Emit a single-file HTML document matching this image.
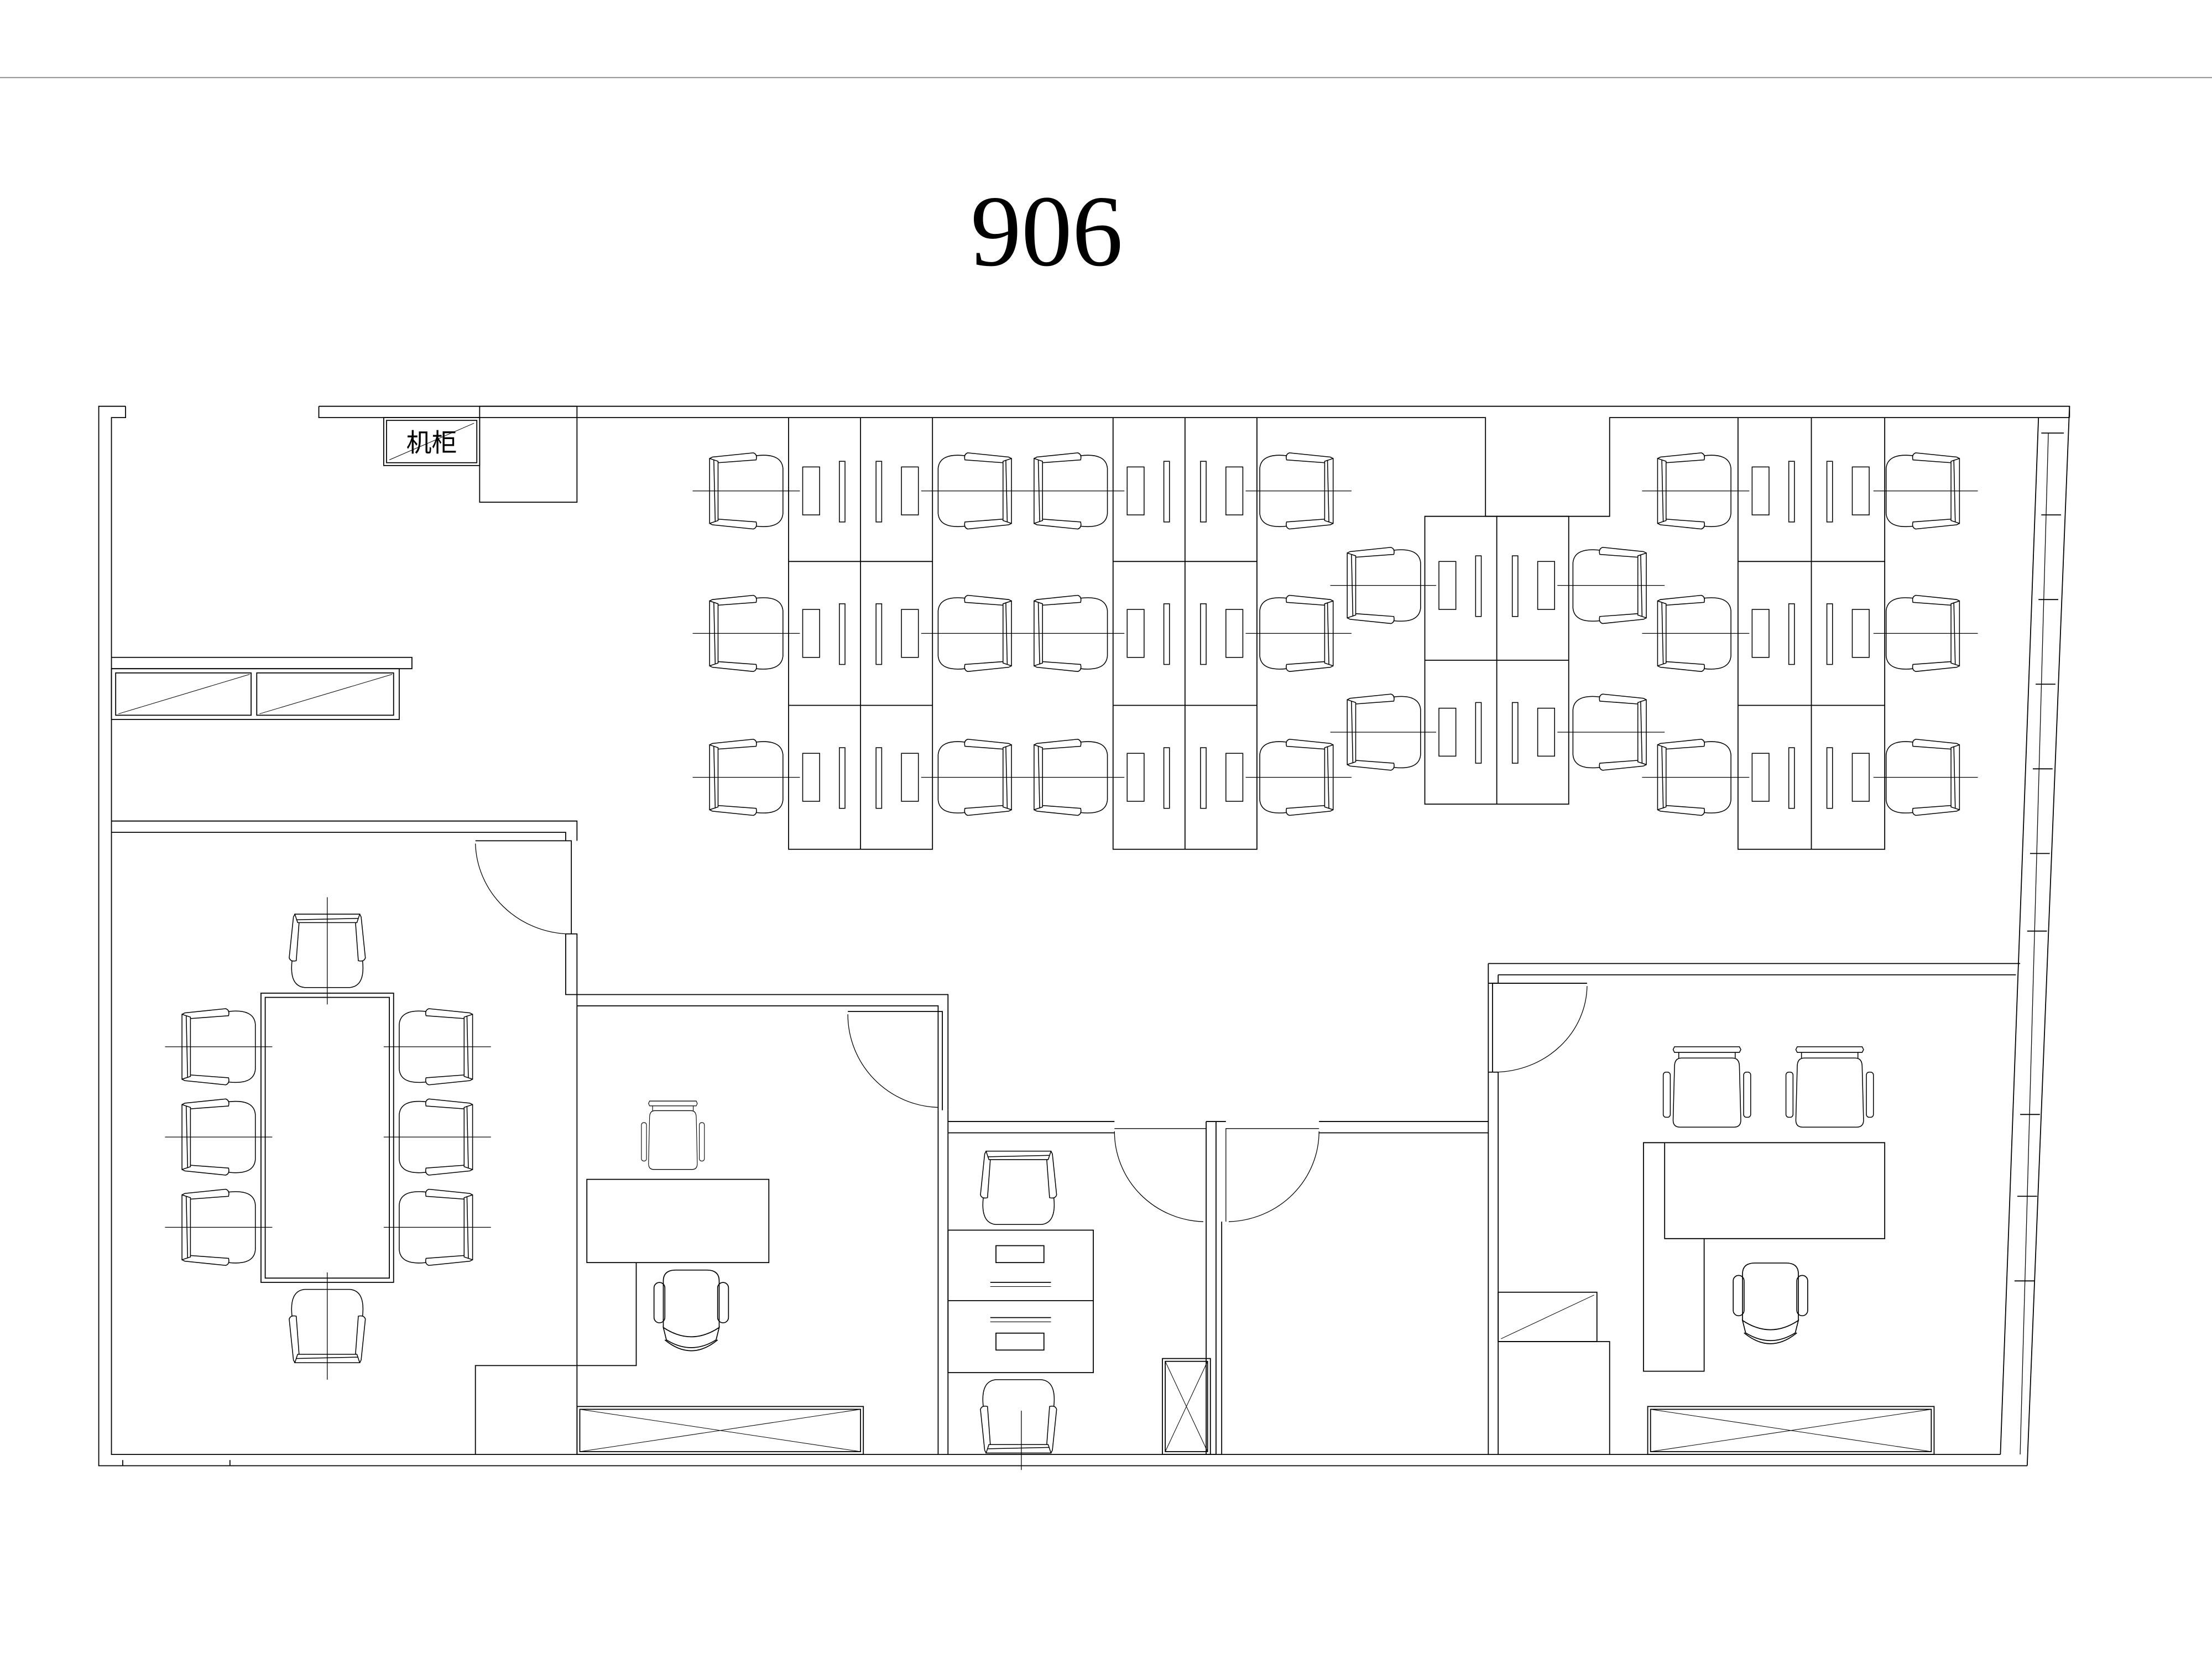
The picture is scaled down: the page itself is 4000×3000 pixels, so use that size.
<!DOCTYPE html>
<html><head><meta charset="utf-8"><style>
html,body{margin:0;padding:0;background:#fff;}
svg{display:block;}
</style></head><body>
<svg width="4000" height="3000" viewBox="0 0 1568 1176" xmlns="http://www.w3.org/2000/svg">
<defs>
<g id="ws" fill="none" stroke="#000" stroke-width="0.6">
<path d="M-26,-23 L-26,23 L-20,21 L-20,-21 Z"/>
<path d="M-23,-22 L-22,22"/>
<path d="M-26,-23 L-24,-24 L5,-27 Q8,-26 7,-22 L-20,-20"/>
<path d="M-26,23 L-24,24 L5,27 Q8,26 7,22 L-20,20"/>
<path d="M7,-25 Q25,-27 26,-16 L26,16 Q25,27 7,25"/>
</g>
<g id="vc" fill="none" stroke="#000" stroke-width="0.6">
<path d="M-23,-30 L23,-30 L24,-28 L23,-26 L-23,-26 L-24,-28 Z"/>
<path d="M-20,-26 L-20,-22 M20,-26 L20,-22"/>
<path d="M-18,-22 L18,-22 Q23,-22 23,-16 L24,22 Q24,27 19,27 L-19,27 Q-24,27 -24,22 L-23,-16 Q-23,-22 -18,-22 Z"/>
<rect x="-31" y="-12" width="5" height="32" rx="2"/>
<rect x="26" y="-12" width="5" height="32" rx="2"/>
</g>
<g id="oc" fill="none" stroke="#000" stroke-width="0.6">
<path d="M-18,10 L-18,-20 Q-18,-27 -10,-27 L10,-27 Q18,-27 18,-20 L18,10"/>
<path d="M-18,10 Q0,22 18,10 L16,18 Q0,28 -16,18 Z"/>
<path d="M-17,18 Q0,32 17,18"/>
<rect x="-24" y="-19" width="7" height="26" rx="3.5"/>
<rect x="17" y="-19" width="7" height="26" rx="3.5"/>
</g>
<g id="dl" fill="none" stroke="#000" stroke-width="0.6">
<rect x="10" y="-17" width="12" height="34"/>
<rect x="36" y="-21" width="4" height="43"/>
</g>
<g id="dr" fill="none" stroke="#000" stroke-width="0.6">
<rect x="29" y="-17" width="12" height="34"/>
<rect x="11" y="-21" width="4" height="43"/>
</g>
</defs>
<g fill="none" stroke="#000" stroke-width="0.7">
<line x1="0" y1="55" x2="1568" y2="55" stroke="#888"/>
<path d="M89,288 L70,288 L70,1039 L1437,1039"/>
<path d="M89,288 L89,296 L79,296 L79,1031 L1418,1031"/>
<path d="M87,1039 L87,1035 M163,1039 L163,1035"/>
<path d="M226,288 L1467,288 L1437,1039"/>
<path d="M226,288 L226,296 L1053,296 L1053,366 L1141,366 L1141,296 L1467,296"/>
<path d="M1445,296 L1418,1031"/>
<path d="M1467,288 L1467,296"/>
<path d="M1447,307 L1463,307 M1447,365 L1461,365 M1445,425 L1459,425 M1443,485 L1457,485 M1441,545 L1455,545 M1439,605 L1453,605 M1437,660 L1451,660 M1432,790 L1446,790 M1430,848 L1444,848 M1428,908 L1442,908"/>
<path d="M1452,307 L1432,1031" stroke-width="0.5"/>
<rect x="340" y="288" width="69" height="68"/>
<rect x="272" y="296" width="68" height="34"/>
<rect x="274" y="298" width="64" height="30"/>
<line x1="276" y1="326" x2="336" y2="300" stroke-width="0.4"/>
<path d="M79,466 L292,466 L292,474 L79,474"/>
<rect x="79" y="474" width="204" height="36"/>
<rect x="82" y="477" width="96" height="30"/><line x1="84" y1="506" x2="177" y2="478" stroke-width="0.4"/>
<rect x="182" y="477" width="97" height="30"/><line x1="184" y1="506" x2="278" y2="478" stroke-width="0.4"/>
<path d="M79,582 L409,582 L409,596 M79,590 L401,590 L401,596"/>
<path d="M401,662 L401,705 L409,705 L409,662 L401,662"/>
<path d="M409,705 L409,1031 M337,1031 L337,968 L409,968"/>
<path d="M337,596 L405,596 L405,662"/>
<path d="M337,598 A68,66 0 0 0 402,662" stroke-width="0.5"/>
<rect x="185" y="704" width="94" height="205"/>
<rect x="188" y="707" width="88" height="199"/>
<path d="M409,705 L672,705 L672,787 M409,713 L665,713 L665,787"/>
<path d="M601,717 L668,717 L668,787"/>
<path d="M601,719 A66,66 0 0 0 665,785" stroke-width="0.5"/>
<path d="M665,787 L665,1031 M672,787 L672,1031"/>
<rect x="416" y="836" width="129" height="59"/>
<path d="M409,968 L451,968 L451,895"/>
<rect x="409" y="997" width="203" height="34"/><rect x="411" y="999" width="199" height="30"/>
<path d="M411,999 L610,1029 M411,1029 L610,999" stroke-width="0.4"/>
<path d="M672,795 L790,795 M855,795 L869,795 M935,795 L1055,795 M672,803 L790,803 M935,803 L1055,803"/>
<path d="M855,795 L855,1031 L862,1031 L862,795"/>
<path d="M866,866 L866,1031"/>
<path d="M790,800 L855,800 L855,866 M790,802 A65,64 0 0 0 853,866" stroke-width="0.5"/>
<path d="M935,800 L869,800 L869,866 M935,802 A66,64 0 0 1 871,866" stroke-width="0.5"/>
<rect x="672" y="872" width="103" height="101"/>
<line x1="672" y1="922" x2="775" y2="922"/>
<rect x="706" y="883" width="34" height="12"/><line x1="702" y1="909" x2="745" y2="909"/><line x1="702" y1="912" x2="745" y2="912" stroke-width="0.4"/>
<rect x="706" y="945" width="34" height="12"/><line x1="702" y1="934" x2="745" y2="934"/><line x1="702" y1="937" x2="745" y2="937" stroke-width="0.4"/>
<rect x="824" y="963" width="34" height="68"/><rect x="826" y="965" width="30" height="64"/>
<path d="M826,965 L856,1029 M826,1029 L856,965" stroke-width="0.4"/>
<path d="M1055,683 L1432,683 M1062,691 L1429,691"/>
<path d="M1055,683 L1055,1031 M1062,691 L1062,697 M1062,760 L1062,1031"/>
<path d="M1055,697 L1062,697 M1055,760 L1062,760"/>
<path d="M1125,697 L1058,697 L1058,760"/>
<path d="M1125,699 A66,62 0 0 1 1060,760" stroke-width="0.5"/>
<path d="M1165,810 L1336,810 L1336,878 L1208,878 L1208,972 L1165,972 Z M1180,810 L1180,878 L1208,878"/>
<rect x="1062" y="916" width="70" height="35"/>
<line x1="1064" y1="949" x2="1130" y2="918" stroke-width="0.4"/>
<path d="M1062,951 L1141,951 L1141,1031"/>
<rect x="1168" y="997" width="203" height="34"/><rect x="1170" y="999" width="199" height="30"/>
<path d="M1170,999 L1369,1029 M1170,1029 L1369,999" stroke-width="0.4"/>
<path d="M559,296 L559,602 L661,602 L661,296 M610,296 L610,602 M559,398 L661,398 M559,500 L661,500"/>
<path d="M789,296 L789,602 L891,602 L891,296 M840,296 L840,602 M789,398 L891,398 M789,500 L891,500"/>
<path d="M1010,366 L1112,366 L1112,570 L1010,570 Z M1061,366 L1061,570 M1010,468 L1112,468"/>
<path d="M1232,296 L1232,602 L1336,602 L1336,296 M1284,296 L1284,602 M1232,398 L1336,398 M1232,500 L1336,500"/>
<g stroke-width="0.5">
<path d="M491,348 L567,348 M653,348 L797,348 M883,348 L958,348 M491,449 L567,449 M653,449 L797,449 M883,449 L958,449 M491,551 L567,551 M653,551 L797,551 M883,551 L958,551"/>
<path d="M1164,348 L1240,348 M1328,348 L1402,348 M1164,449 L1240,449 M1328,449 L1402,449 M1164,551 L1240,551 M1328,551 L1402,551"/>
<path d="M943,415 L1018,415 M1104,415 L1180,415 M943,519 L1018,519 M1104,519 L1180,519"/>
<path d="M117,742 L193,742 M117,806 L193,806 M117,870 L193,870 M272,742 L348,742 M272,806 L348,806 M272,870 L348,870 M232,636 L232,712 M232,902 L232,978"/>
<path d="M724,1000 L724,1042"/>
</g>
</g>
<g>
<use href="#dl" x="559" y="348"/><use href="#dr" x="610" y="348"/><use href="#dl" x="559" y="449"/><use href="#dr" x="610" y="449"/><use href="#dl" x="559" y="551"/><use href="#dr" x="610" y="551"/>
<use href="#dl" x="789" y="348"/><use href="#dr" x="840" y="348"/><use href="#dl" x="789" y="449"/><use href="#dr" x="840" y="449"/><use href="#dl" x="789" y="551"/><use href="#dr" x="840" y="551"/>
<use href="#dl" x="1010" y="415"/><use href="#dr" x="1061" y="415"/><use href="#dl" x="1010" y="519"/><use href="#dr" x="1061" y="519"/>
<use href="#dl" x="1232" y="348"/><use href="#dr" x="1284" y="348"/><use href="#dl" x="1232" y="449"/><use href="#dr" x="1284" y="449"/><use href="#dl" x="1232" y="551"/><use href="#dr" x="1284" y="551"/>
</g>
<g>
<use href="#ws" transform="translate(529,348)"/><use href="#ws" transform="translate(529,449)"/><use href="#ws" transform="translate(529,551)"/>
<use href="#ws" transform="translate(691,348) rotate(180)"/><use href="#ws" transform="translate(691,449) rotate(180)"/><use href="#ws" transform="translate(691,551) rotate(180)"/>
<use href="#ws" transform="translate(759,348)"/><use href="#ws" transform="translate(759,449)"/><use href="#ws" transform="translate(759,551)"/>
<use href="#ws" transform="translate(919,348) rotate(180)"/><use href="#ws" transform="translate(919,449) rotate(180)"/><use href="#ws" transform="translate(919,551) rotate(180)"/>
<use href="#ws" transform="translate(981,415)"/><use href="#ws" transform="translate(981,519)"/>
<use href="#ws" transform="translate(1141,415) rotate(180)"/><use href="#ws" transform="translate(1141,519) rotate(180)"/>
<use href="#ws" transform="translate(1201,348)"/><use href="#ws" transform="translate(1201,449)"/><use href="#ws" transform="translate(1201,551)"/>
<use href="#ws" transform="translate(1363,348) rotate(180)"/><use href="#ws" transform="translate(1363,449) rotate(180)"/><use href="#ws" transform="translate(1363,551) rotate(180)"/>
<use href="#ws" transform="translate(155,742)"/><use href="#ws" transform="translate(155,806)"/><use href="#ws" transform="translate(155,870)"/>
<use href="#ws" transform="translate(309,742) rotate(180)"/><use href="#ws" transform="translate(309,806) rotate(180)"/><use href="#ws" transform="translate(309,870) rotate(180)"/>
<use href="#ws" transform="translate(232,674) rotate(90)"/>
<use href="#ws" transform="translate(232,940) rotate(-90)"/>
<use href="#vc" transform="translate(477,806) scale(0.72,0.85)"/>
<use href="#oc" transform="translate(490,930) scale(1.1)"/>
<use href="#ws" transform="translate(722,842) rotate(90)"/>
<use href="#ws" transform="translate(722,1004) rotate(-90)"/>
<use href="#vc" transform="translate(1210,772)"/>
<use href="#vc" transform="translate(1297,772)"/>
<use href="#oc" transform="translate(1255,925) scale(1.1)"/>
</g>
<text x="742" y="188" font-family="'Liberation Serif', serif" font-size="72" text-anchor="middle" fill="#000">906</text>
<text x="306" y="320" font-family="'Liberation Sans','Noto Sans CJK SC',sans-serif" font-size="18" text-anchor="middle" fill="#000">机柜</text>
</svg>
</body></html>
